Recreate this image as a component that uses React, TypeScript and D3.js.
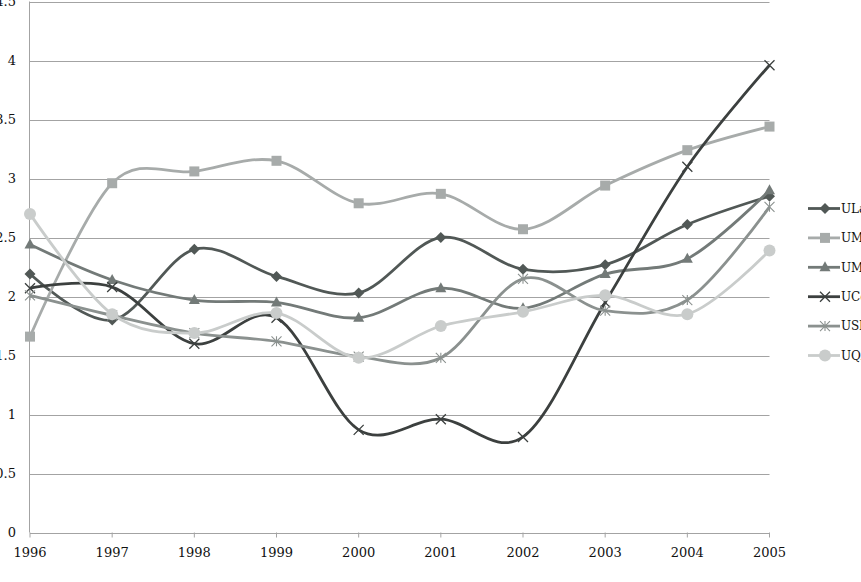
import React from 'react';
import * as d3 from 'd3';

const years = ['1996', '1997', '1998', '1999', '2000', '2001', '2002', '2003', '2004', '2005'];
const yTicks = [0, 0.5, 1, 1.5, 2, 2.5, 3, 3.5, 4, 4.5];

const seriesNames = ['ULaval', 'UMontréal', 'UMcGill', 'UConcordia', 'USherbrooke', 'UQAM'];
const seriesColors = ['#515856', '#a7abaa', '#737a78', '#3c403f', '#8b918f', '#c9cccb'];
const seriesMarkers = ['diamond', 'square', 'triangle', 'x', 'star', 'circle'];

const ulaval = [2.19, 1.8, 2.4, 2.17, 2.03, 2.5, 2.23, 2.27, 2.61, 2.85];
const umontreal = [1.66, 2.96, 3.06, 3.15, 2.79, 2.87, 2.57, 2.94, 3.24, 3.44];
const umcgill = [2.44, 2.14, 1.97, 1.95, 1.82, 2.07, 1.9, 2.19, 2.32, 2.9];
const uconcordia = [2.07, 2.08, 1.6, 1.82, 0.87, 0.96, 0.81, 1.95, 3.1, 3.96];
const usherbrooke = [2.01, 1.84, 1.69, 1.62, 1.49, 1.48, 2.15, 1.88, 1.97, 2.76];
const uqam = [2.7, 1.85, 1.69, 1.86, 1.48, 1.75, 1.87, 2.01, 1.85, 2.39];

const seriesValues = [ulaval, umontreal, umcgill, uconcordia, usherbrooke, uqam];

const FONT = '"DejaVu Serif", serif';

function Marker({ kind, x, y, color }: { kind: string; x: number; y: number; color: string }) {
  if (kind === 'diamond') {
    return <path d={`M${x},${y - 5.5}L${x + 5.5},${y}L${x},${y + 5.5}L${x - 5.5},${y}Z`} fill={color} />;
  }
  if (kind === 'square') {
    return <rect x={x - 5} y={y - 5} width={10} height={10} fill={color} />;
  }
  if (kind === 'triangle') {
    return <path d={`M${x},${y - 6}L${x + 5.5},${y + 4}L${x - 5.5},${y + 4}Z`} fill={color} />;
  }
  if (kind === 'x') {
    return (
      <path d={`M${x - 5},${y - 5}L${x + 5},${y + 5}M${x - 5},${y + 5}L${x + 5},${y - 5}`} stroke={color} strokeWidth={1.3} />
    );
  }
  if (kind === 'star') {
    return (
      <path
        d={`M${x - 5},${y - 5}L${x + 5},${y + 5}M${x - 5},${y + 5}L${x + 5},${y - 5}M${x},${y - 5}L${x},${y + 5}`}
        stroke={color}
        strokeWidth={1.1}
      />
    );
  }
  return <circle cx={x} cy={y} r={6} fill={color} />;
}

export default function App() {
  const width = 900;
  const height = 582;

  const x = d3.scalePoint<string>().domain(years).range([30, 769.5]);
  const y = d3.scaleLinear().domain([0, 4.5]).range([532.5, 1.5]);

  const line = d3
    .line<number>()
    .x((d, i) => x(years[i]) as number)
    .y((d) => y(d))
    .curve(d3.curveCardinal.tension(0));

  const legendX = 808;
  const legendY0 = 208.5;
  const legendStep = 29.4;

  return (
    <div style={{ position: 'absolute', left: 0, top: 0, width: 861, height: 582, overflow: 'hidden', background: '#fff' }}>
      <svg width={width} height={height} style={{ display: 'block' }}>
        {/* gridlines */}
        {yTicks.map((t) => (
          <line key={t} x1={30} x2={769.5} y1={Math.round(y(t)) + 0.5} y2={Math.round(y(t)) + 0.5} stroke="#a3a3a3" strokeWidth={1} />
        ))}
        {/* y axis */}
        <line x1={29.5} x2={29.5} y1={y(4.5)} y2={y(0)} stroke="#a3a3a3" />
        {yTicks.map((t) => (
          <text key={t} x={16} y={y(t)} dy="0.35em" textAnchor="end" fontFamily={FONT} fontSize={13} fill="#111">
            {String(t)}
          </text>
        ))}
        {/* x ticks */}
        {years.map((yr) => (
          <g key={yr}>
            <line x1={(x(yr) as number)} x2={(x(yr) as number)} y1={y(0)} y2={y(0) + 5} stroke="#a3a3a3" />
            <text x={x(yr)} y={557} textAnchor="middle" fontFamily={FONT} fontSize={13} fill="#111">
              {yr}
            </text>
          </g>
        ))}
        {/* series */}
        {seriesValues.map((vals, si) => (
          <g key={seriesNames[si]}>
            <path d={line(vals) ?? ''} fill="none" stroke={seriesColors[si]} strokeWidth={2.8} />
            {vals.map((v, i) => (
              <Marker key={i} kind={seriesMarkers[si]} x={x(years[i]) as number} y={y(v)} color={seriesColors[si]} />
            ))}
          </g>
        ))}
        {/* legend */}
        {seriesNames.map((name, si) => {
          const ly = legendY0 + si * legendStep;
          return (
            <g key={name}>
              <line x1={legendX} x2={legendX + 32} y1={ly} y2={ly} stroke={seriesColors[si]} strokeWidth={2.8} />
              <Marker kind={seriesMarkers[si]} x={legendX + 17} y={ly} color={seriesColors[si]} />
              <text x={legendX + 33} y={ly} dy="0.35em" fontFamily={FONT} fontSize={12} fill="#111">
                {name}
              </text>
            </g>
          );
        })}
      </svg>
    </div>
  );
}
